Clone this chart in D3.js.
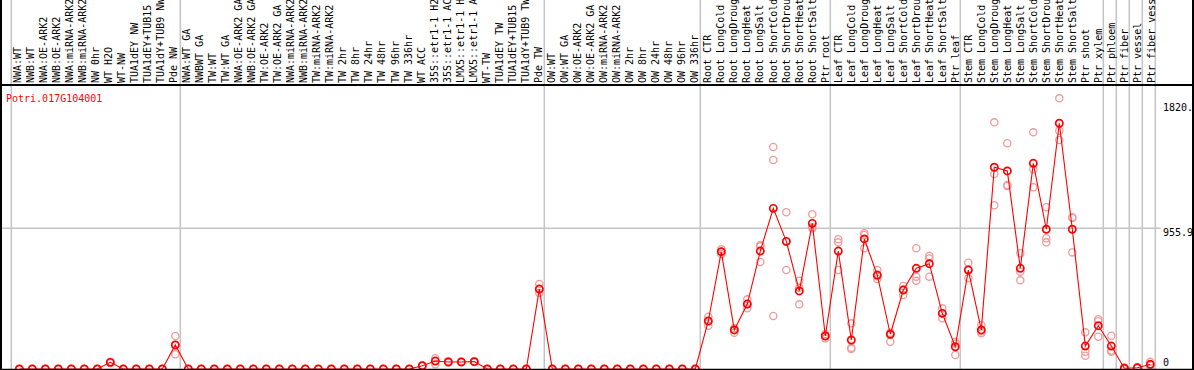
<!DOCTYPE html>
<html><head><meta charset="utf-8">
<script src="https://cdn.jsdelivr.net/npm/d3@7"></script>
<style>body{margin:0;background:#fff} svg{display:block} text{font-family:"DejaVu Sans Mono",monospace;font-size:10px}</style>
</head><body><svg id="c" width="1194" height="370"></svg>
<script>
const title = "Potri.017G104001";
const categories = ["NWA:WT","NWB:WT","NWA:OE-ARK2","NWB:OE-ARK2","NWA:miRNA-ARK2","NWB:miRNA-ARK2","NW 0hr","WT H2O","WT-NW","TUA1dEY NW","TUA1dEY+TUB15 NW","TUA1dY+TUB9 NW","Pde NW",
"NWA:WT GA","NWBWT GA","TW:WT","TW:WT GA","NWA:OE-ARK2 GA","NWB:OE-ARK2 GA","TW:OE-ARK2","TW:OE-ARK2 GA","NWA:miRNA-ARK2","NWB:miRNA-ARK2","TW:miRNA-ARK2","TW:miRNA-ARK2","TW 2hr","TW 8hr","TW 24hr","TW 48hr","TW 96hr","TW 336hr","WT ACC","35S::etr1-1 H2O","35S::etr1-1 ACC","LMX5::etr1-1 H2O","LMX5::etr1-1 ACC","WT-TW","TUA1dEY TW","TUA1dEY+TUB15 TW","TUA1dY+TUB9 TW","Pde TW",
"OW:WT","OW:WT GA","OW:OE-ARK2","OW:OE-ARK2 GA","OW:miRNA-ARK2","OW:miRNA-ARK2","OW 2hr","OW 8hr","OW 24hr","OW 48hr","OW 96hr","OW 336hr",
"Root CTR","Root LongCold","Root LongDrought","Root LongHeat","Root LongSalt","Root ShortCold","Root ShortDrought","Root ShortHeat","Root ShortSalt","Ptr root",
"Leaf CTR","Leaf LongCold","Leaf LongDrought","Leaf LongHeat","Leaf LongSalt","Leaf ShortCold","Leaf ShortDrought","Leaf ShortHeat","Leaf ShortSalt","Ptr leaf",
"Stem CTR","Stem LongCold","Stem LongDrought","Stem LongHeat","Stem LongSalt","Stem ShortCold","Stem ShortDrought","Stem ShortHeat","Stem ShortSalt",
"Ptr shoot","Ptr xylem","Ptr phloem","Ptr fiber","Ptr vessel","Ptr fiber vessel"];

const meanValues = [0,0,0,0,0,0,0,45,0,0,0,0,163,
0,0,0,0,0,0,0,0,0,0,0,0,0,0,0,0,0,0,22,54,48,48,50,0,0,0,0,543,
0,0,0,0,0,0,0,0,0,0,0,0,
326,797,265,441,801,1091,867,530,989,224,
801,197,883,638,236,536,684,715,378,151,
672,265,1370,1345,684,1397,949,1669,949,
156,294,156,5,8,32];

const replicateValues = [[0,0,0],[0,0,0],[0,0,0],[0,0,0],[0,0,0],[0,0,0],[0,0,0],[45,40,50],[0,0,0],[0,0,0],[0,0,0],[0,0,0],[224,163,100],
[0,0,0],[0,0,0],[0,0,0],[0,0,0],[0,0,0],[0,0,0],[0,0,0],[0,0,0],[0,0,0],[0,0,0],[0,0,0],[0,0,0],[0,0,0],[0,0,0],[0,0,0],[0,0,0],[0,0,0],[0,0,0],[22,20,24],[73,54,32],[48,45,52],[48,46,50],[50,48,52],[0,0,0],[0,0,0],[0,0,0],[0,0,0],[577,543,516],
[0,0,0],[0,0,0],[0,0,0],[0,0,0],[0,0,0],[0,0,0],[0,0,0],[0,0,0],[0,0,0],[0,0,0],[0,0,0],[0,0,0],
[355,326,294],[813,797,781],[276,265,247],[473,441,412],[842,833,727],[1508,1419,360],[1064,672,865],[600,439,551],[1051,962,955],[238,224,208],
[881,860,672],[310,136,145],[922,910,820],[672,630,611],[247,236,185],[564,540,503],[820,627,600],[767,627,751],[412,378,344],[185,173,95],
[722,678,616],[299,255,242],[1675,1324,1112],[1533,1250,1243],[786,661,602],[1607,1356,1234],[1098,888,860],[1838,1618,1555],[1030,792,1025],
[249,117,90],[338,219,324],[226,117,126],[0,5,10],[5,8,12],[50,25,22]];

const groupBreaks = [0,13,41,53,63,73,84,85,86,87,88];
const yTicks = [0,955.9,1820];
const yTickLabels = ["0","955.9","1820."];

const W = 1194, H = 370;
const svg = d3.select("#c");
const idx = d3.range(categories.length);
const x = d3.scaleLinear().domain([0, categories.length - 1]).range([19.3, 1150.3]);
const xLabel = d3.scaleLinear().domain([0, categories.length - 1]).range([20.5, 1154.5]);
const y = d3.scaleLinear().domain([0, 1820]).range([369, 101]);

// group separator lines
svg.append("g").selectAll("line").data(groupBreaks).join("line")
  .attr("x1", d => x(d) - 8).attr("x2", d => x(d) - 8)
  .attr("y1", 0).attr("y2", H)
  .attr("stroke", "#c4c4c4").attr("stroke-width", 1.5);

// horizontal mid grid line
svg.append("line").attr("x1", 2).attr("x2", 1161)
  .attr("y1", y(955.9)).attr("y2", y(955.9))
  .attr("stroke", "#c4c4c4").attr("stroke-width", 1.5);

// category labels
svg.append("g").selectAll("text").data(idx).join("text")
  .attr("transform", i => `translate(${xLabel(i)},83) rotate(-90)`)
  .attr("fill", "#000")
  .text(i => categories[i]);

// title
svg.append("text").attr("x", 6).attr("y", 102).attr("fill", "#ff0000").text(title);

// y axis labels
const axis = d3.axisRight(y).tickValues(yTicks).tickSize(0)
  .tickFormat((d, i) => yTickLabels[i]);
const ag = svg.append("g").attr("transform", "translate(1163,0)").call(axis);
ag.select(".domain").remove();
ag.selectAll("text").attr("x", 0).attr("dy", null)
  .attr("font-family", "DejaVu Sans Mono").attr("font-size", 10)
  .attr("y", d => d === 0 ? -3.5 : (d === 1820 ? 9.6 : 7.4))
  .attr("text-anchor", "start").attr("fill", "#000");

// replicate points
const reps = [];
replicateValues.forEach((arr, i) => arr.forEach(v => reps.push({i, v})));
svg.append("g").selectAll("circle").data(reps).join("circle")
  .attr("cx", d => x(d.i)).attr("cy", d => y(d.v)).attr("r", 3.6)
  .attr("fill", "none").attr("stroke", "#f09a9a").attr("stroke-width", 1.3);

// mean line
svg.append("path").datum(idx)
  .attr("d", d3.line().x(i => x(i)).y(i => y(meanValues[i])))
  .attr("fill", "none").attr("stroke", "#ff0000").attr("stroke-width", 1.1);

// mean points
svg.append("g").selectAll("circle").data(idx).join("circle")
  .attr("cx", i => x(i)).attr("cy", i => y(meanValues[i])).attr("r", 3.6)
  .attr("fill", "none").attr("stroke", "#ff0000").attr("stroke-width", 1.7);

// frame
svg.append("line").attr("x1", 1).attr("x2", 1).attr("y1", 0).attr("y2", H).attr("stroke", "#000").attr("stroke-width", 2);
svg.append("line").attr("x1", 1193).attr("x2", 1193).attr("y1", 0).attr("y2", H).attr("stroke", "#000").attr("stroke-width", 2);
svg.append("line").attr("x1", 0).attr("x2", W).attr("y1", 85).attr("y2", 85).attr("stroke", "#000").attr("stroke-width", 2);
svg.append("line").attr("x1", 0).attr("x2", W).attr("y1", 369.5).attr("y2", 369.5).attr("stroke", "#000").attr("stroke-width", 1.5);
</script></body></html>
